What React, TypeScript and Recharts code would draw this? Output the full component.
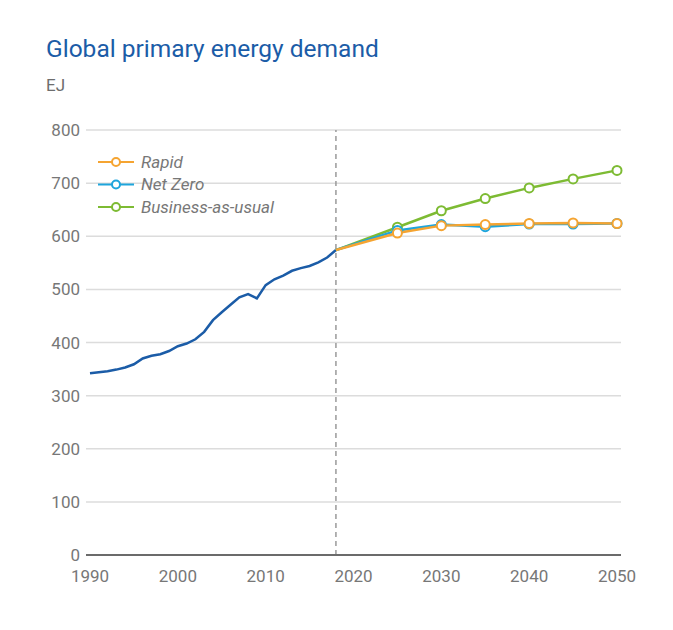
import { LineChart, Line, XAxis, YAxis, CartesianGrid, ReferenceLine } from 'recharts';

const historyYears = [
  1990, 1991, 1992, 1993, 1994, 1995, 1996, 1997, 1998, 1999, 2000, 2001, 2002, 2003, 2004,
  2005, 2006, 2007, 2008, 2009, 2010, 2011, 2012, 2013, 2014, 2015, 2016, 2017, 2018,
];
const historyValues = [
  342, 344, 346, 349, 353, 359, 370, 375, 378, 384, 393, 398, 406, 420, 442,
  457, 471, 485, 491, 483, 508, 519, 526, 535, 540, 544, 551, 560, 574,
];

const scenarioYears = [2018, 2025, 2030, 2035, 2040, 2045, 2050];
const rapid = [574, 606, 620, 622, 624, 625, 624];
const netZero = [574, 611, 622, 618, 623, 623, 624];
const businessAsUsual = [574, 617, 648, 671, 691, 708, 724];

const xTicks = [1990, 2000, 2010, 2020, 2030, 2040, 2050];
const yTicks = [0, 100, 200, 300, 400, 500, 600, 700, 800];

const FONT = 'Roboto, "Liberation Sans", sans-serif';
const HISTORY = '#1b5ca7';
const COLORS = { rapid: '#f5a431', netZero: '#1ea5dc', bau: '#7dbb33' };

const legendItems = [
  { name: 'Rapid', color: COLORS.rapid },
  { name: 'Net Zero', color: COLORS.netZero },
  { name: 'Business-as-usual', color: COLORS.bau },
];

type Row = { year: number; history?: number; rapid?: number; netZero?: number; bau?: number };

const data: Row[] = historyYears.map((year, i) => ({ year, history: historyValues[i] }));
scenarioYears.forEach((year, i) => {
  let row = data.find((r) => r.year === year);
  if (!row) {
    row = { year };
    data.push(row);
  }
  row.rapid = rapid[i];
  row.netZero = netZero[i];
  row.bau = businessAsUsual[i];
});

function makeDot(color: string) {
  return (props: any) => {
    const { cx, cy, payload, index, value } = props;
    if (payload.year === 2018 || cx == null || cy == null || value == null) return <g key={`d-${index}`} />;
    return (
      <circle key={`d-${index}`} cx={cx} cy={cy} r={4.5} fill="#fff" stroke={color} strokeWidth={2} />
    );
  };
}

function ScenarioLegend() {
  return (
    <svg width={220} height={70} style={{ position: 'absolute', left: 95, top: 152 }}>
      {legendItems.map((item, i) => {
        const y = 10 + i * 22.5;
        return (
          <g key={item.name}>
            <line x1={3} x2={39} y1={y} y2={y} stroke={item.color} strokeWidth={2} />
            <circle cx={21} cy={y} r={4} fill="#fff" stroke={item.color} strokeWidth={2} />
            <text
              x={46}
              y={y}
              dy="0.35em"
              fontSize={17}
              fontStyle="italic"
              fill="#777"
              fontFamily={FONT}
            >
              {item.name}
            </text>
          </g>
        );
      })}
    </svg>
  );
}

export default function App() {
  return (
    <div style={{ position: 'absolute', left: 0, top: 0, width: 673, height: 630, background: '#fff' }}>
      <div
        style={{
          position: 'absolute',
          left: 46,
          top: 34,
          fontFamily: FONT,
          fontSize: 24.5,
          color: HISTORY,
          whiteSpace: 'nowrap',
        }}
      >
        Global primary energy demand
      </div>
      <div style={{ position: 'absolute', left: 46, top: 75, fontFamily: FONT, fontSize: 17, color: '#6d6d6d' }}>
        EJ
      </div>
      <LineChart
        width={673}
        height={630}
        data={data}
        margin={{ top: 130, right: 52, bottom: 45, left: 46 }}
        style={{ position: 'absolute', left: 0, top: 0 }}
      >
        <CartesianGrid vertical={false} stroke="#dcdcdc" strokeWidth={1.5} />
        <XAxis
          dataKey="year"
          type="number"
          domain={[1990, 2050]}
          ticks={xTicks}
          padding={{ left: 4, right: 4 }}
          tickLine={false}
          tickMargin={9}
          axisLine={{ stroke: '#6b6b6b', strokeWidth: 2 }}
          height={30}
          tick={{ fill: '#777', fontSize: 17, fontFamily: FONT }}
        />
        <YAxis
          domain={[0, 800]}
          ticks={yTicks}
          width={40}
          axisLine={false}
          tickLine={false}
          tickMargin={0}
          tick={{ fill: '#777', fontSize: 17, fontFamily: FONT }}
        />
        <ReferenceLine x={2018} stroke="#9a9a9a" strokeWidth={1.5} strokeDasharray="5 4" />
        <Line
          dataKey="history"
          stroke={HISTORY}
          strokeWidth={2.5}
          dot={false}
          isAnimationActive={false}
        />
        <Line
          dataKey="bau"
          stroke={COLORS.bau}
          strokeWidth={2.5}
          dot={makeDot(COLORS.bau)}
          isAnimationActive={false}
          connectNulls
        />
        <Line
          dataKey="netZero"
          stroke={COLORS.netZero}
          strokeWidth={2.5}
          dot={makeDot(COLORS.netZero)}
          isAnimationActive={false}
          connectNulls
        />
        <Line
          dataKey="rapid"
          stroke={COLORS.rapid}
          strokeWidth={2.5}
          dot={makeDot(COLORS.rapid)}
          isAnimationActive={false}
          connectNulls
        />
      </LineChart>
      <ScenarioLegend />
    </div>
  );
}
